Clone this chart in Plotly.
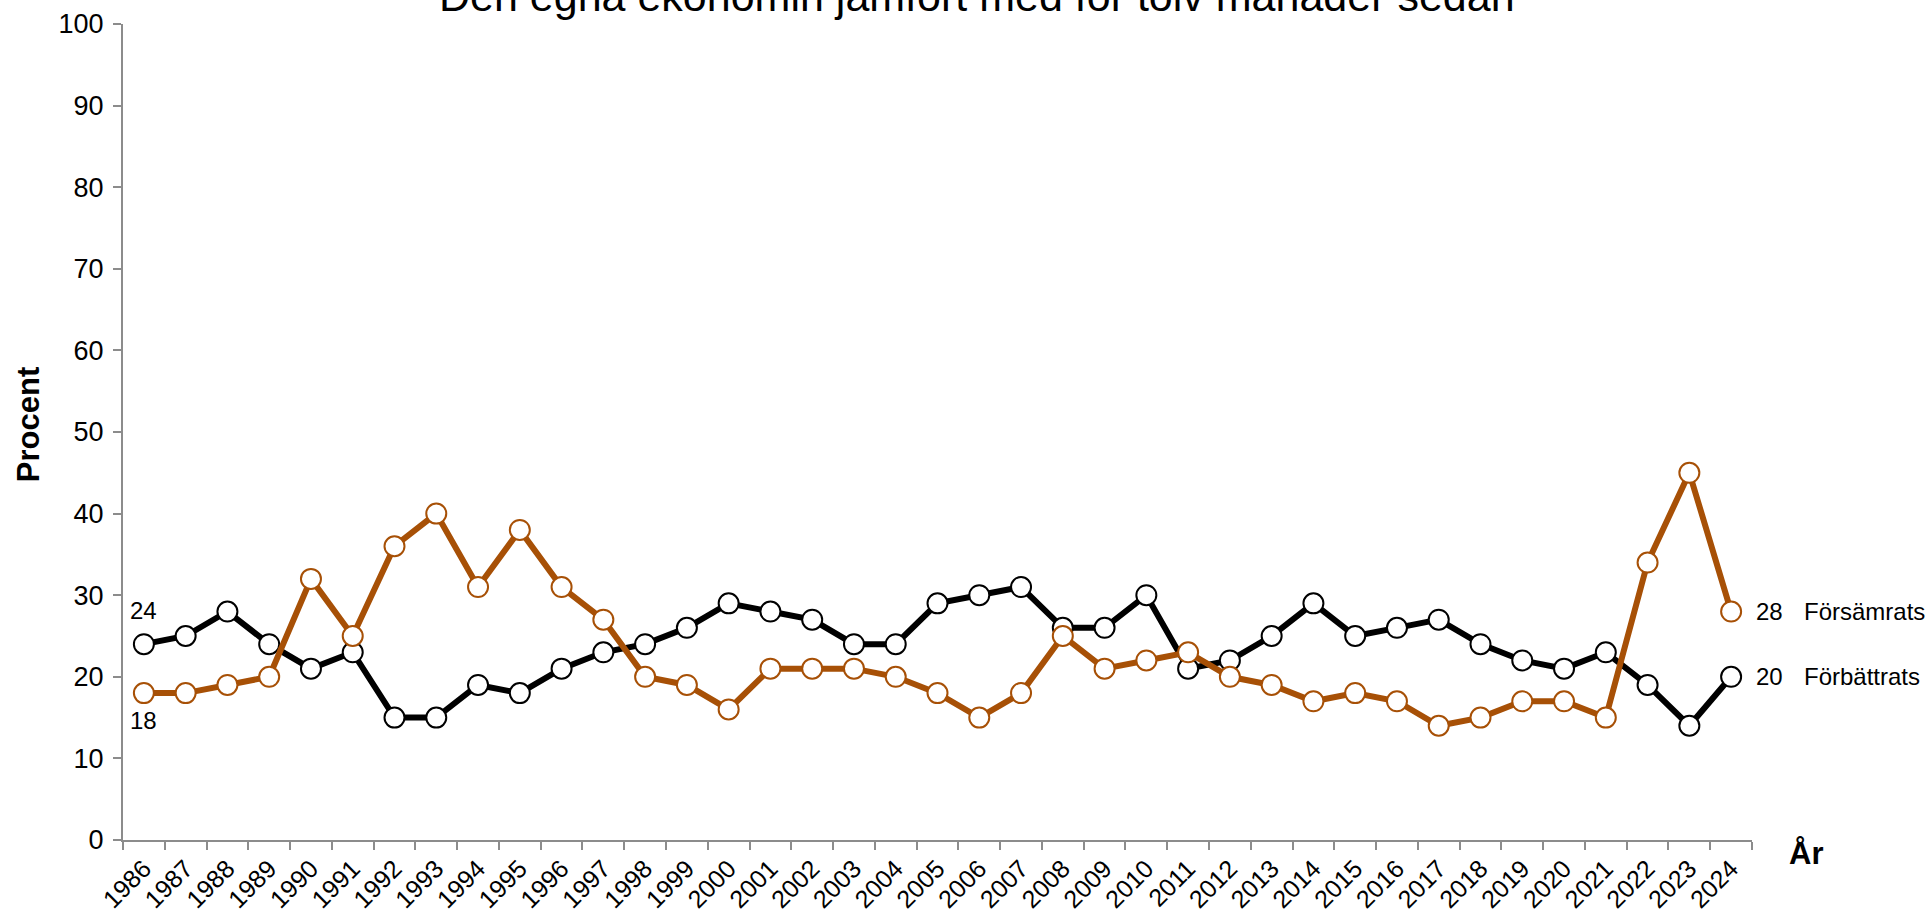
import plotly.graph_objects as go

# survey years and shares (percent)
years = [str(y) for y in range(1986, 2025)]
forbattrats = [24, 25, 28, 24, 21, 23, 15, 15, 19, 18, 21, 23, 24, 26, 29, 28, 27, 24, 24, 29,
               30, 31, 26, 26, 30, 21, 22, 25, 29, 25, 26, 27, 24, 22, 21, 23, 19, 14, 20]
forsamrats = [18, 18, 19, 20, 32, 25, 36, 40, 31, 38, 31, 27, 20, 19, 16, 21, 21, 21, 20, 18,
              15, 18, 25, 21, 22, 23, 20, 19, 17, 18, 17, 14, 15, 17, 17, 15, 34, 45, 28]
series_names = ["Förbättrats", "Försämrats"]
title_text = "Den egna ekonomin jämfört med för tolv månader sedan"
y_ticks = list(range(0, 101, 10))

FONT = "Arial, Liberation Sans, sans-serif"
ORANGE = "#A75006"
AXIS = "#8c8c8c"

fig = go.Figure()
for vals, col, name in [(forbattrats, "black", series_names[0]), (forsamrats, ORANGE, series_names[1])]:
    fig.add_trace(go.Scatter(
        x=years, y=vals, mode="lines+markers", name=name,
        line=dict(color=col, width=6),
        marker=dict(size=20, color="white", line=dict(color=col, width=2)),
        showlegend=False, hoverinfo="x+y",
    ))

# on a category axis annotations are placed by category index
first, last = 0, len(years) - 1
ann = []
ann.append(dict(x=first, y=forbattrats[0], text=str(forbattrats[0]), showarrow=False,
                yshift=34, font=dict(size=24)))
ann.append(dict(x=first, y=forsamrats[0], text=str(forsamrats[0]), showarrow=False,
                yshift=-27, font=dict(size=24)))
for vals, name in [(forsamrats, series_names[1]), (forbattrats, series_names[0])]:
    ann.append(dict(x=last, y=vals[-1], text=str(vals[-1]), showarrow=False,
                    xanchor="left", xshift=23, font=dict(size=24)))
    ann.append(dict(x=last, y=vals[-1], text=name, showarrow=False,
                    xanchor="left", xshift=71, font=dict(size=24)))
# title, partly above the page edge as in the source
ann.append(dict(xref="paper", yref="paper", x=0.524, y=1, xanchor="center",
                yanchor="bottom", yshift=2,
                text=title_text, showarrow=False, font=dict(size=43)))
# axis titles
ann.append(dict(xref="paper", yref="paper", x=-0.058, y=0.509, xanchor="center",
                text="<b>Procent</b>", textangle=-90, showarrow=False, font=dict(size=31)))
ann.append(dict(xref="paper", yref="paper", x=1.0215, y=-0.0404, xanchor="left",
                text="<b>År</b>", showarrow=False, font=dict(size=31)))

fig.update_layout(
    width=1927, height=915,
    margin=dict(l=123, r=175, t=24, b=75),
    paper_bgcolor="white", plot_bgcolor="white",
    font=dict(family=FONT, color="black", size=27),
    annotations=ann,
)
fig.update_xaxes(
    type="category", range=[-0.5, len(years) - 0.5], tickson="boundaries",
    showline=True, linecolor=AXIS, linewidth=2, showgrid=False, zeroline=False,
    ticks="outside", ticklen=8, tickwidth=2, tickcolor=AXIS, automargin=False,
    tickangle=-45, tickfont=dict(size=25), ticklabelstandoff=2,
)
fig.update_yaxes(
    range=[0, 100], tickvals=y_ticks, showline=True, linecolor=AXIS, linewidth=2,
    showgrid=False, zeroline=False, ticks="outside", ticklen=8, tickwidth=2,
    tickcolor=AXIS, tickfont=dict(size=27), ticklabelstandoff=4, automargin=False,
)

fig.write_html("out.html", config={"displayModeBar": False},
               post_script="document.body.style.margin='0';")
